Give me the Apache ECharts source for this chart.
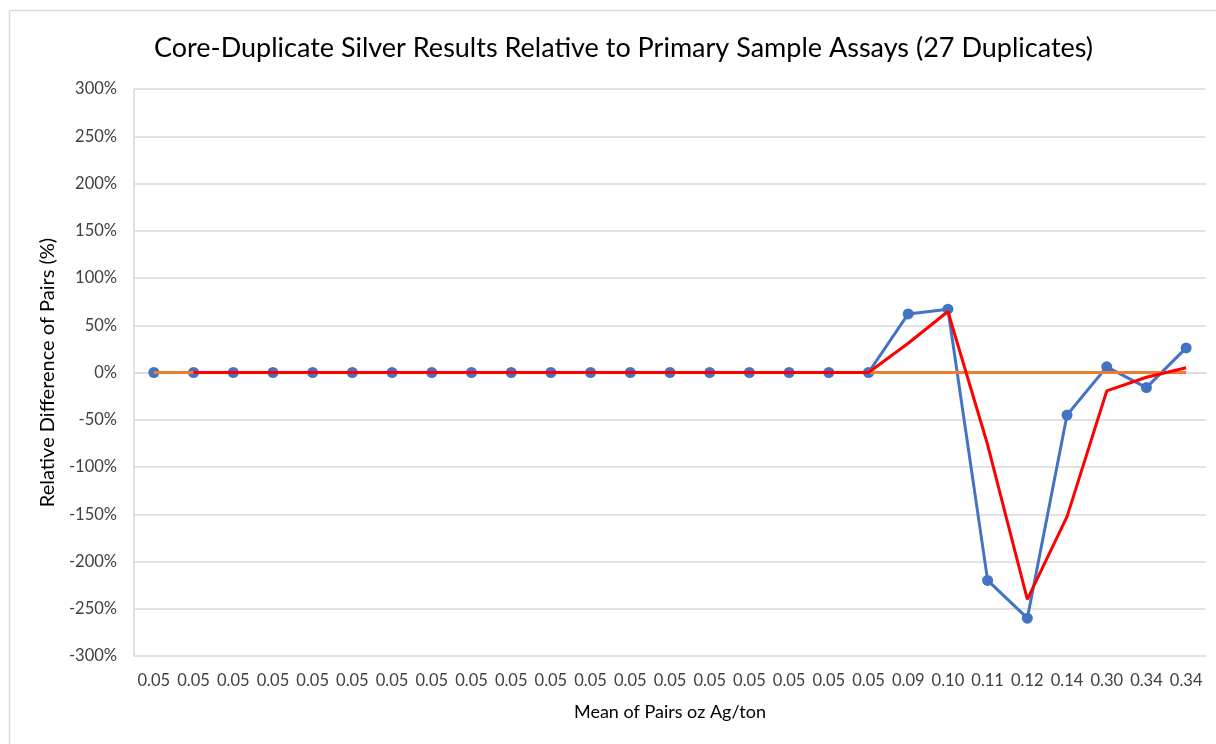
<!DOCTYPE html>
<html><head><meta charset="utf-8">
<script src="https://cdn.jsdelivr.net/npm/echarts@6/dist/echarts.min.js"></script>
<style>html,body{margin:0;padding:0;background:#fff}#c{width:1216px;height:744px}</style>
</head><body><div id="c"></div>
<script>
const categories = ['0.05','0.05','0.05','0.05','0.05','0.05','0.05','0.05','0.05','0.05','0.05','0.05','0.05','0.05','0.05','0.05','0.05','0.05','0.05','0.09','0.10','0.11','0.12','0.14','0.30','0.34','0.34'];
const relDiff = [0,0,0,0,0,0,0,0,0,0,0,0,0,0,0,0,0,0,0,62,67,-220,-260,-45,6,-16,26];
const movingAvg = [null,0,0,0,0,0,0,0,0,0,0,0,0,0,0,0,0,0,0,31,64.5,-76.5,-240,-152.5,-19.5,-5,5];
const zeroLine = [0,0,0,0,0,0,0,0,0,0,0,0,0,0,0,0,0,0,0,0,0,0,0,0,0,0,0];
const titleText = 'Core-Duplicate Silver Results Relative to Primary Sample Assays (27 Duplicates)';
const xTitle = 'Mean of Pairs oz Ag/ton';
const yTitle = 'Relative Difference of Pairs (%)';

const chart = echarts.init(document.getElementById('c'));
const font = 'Lato, sans-serif';
chart.setOption({
  animation: false,
  graphic: [{type:'rect', shape:{x:9.5,y:10.5,width:1220,height:760}, style:{fill:'none', stroke:'#d9d9d9', lineWidth:1.5}, silent:true}],
  title: {text: titleText, left: 149, top: 30, textStyle:{fontFamily:font, fontSize:27, fontWeight:'normal', color:'#000'}},
  grid: {left:134, right:10, top:89, bottom:88},
  xAxis: {
    type:'category', data:categories, boundaryGap:true,
    name:xTitle, nameLocation:'middle', nameGap:47,
    nameTextStyle:{fontFamily:font, fontSize:18, color:'#000'},
    axisLine:{lineStyle:{color:'#d9d9d9', width:1.5}},
    axisTick:{show:false},
    axisLabel:{interval:0, fontFamily:font, fontSize:16.5, color:'#404040', margin:16}
  },
  yAxis: {
    type:'value', min:-300, max:300, interval:50,
    name:yTitle, nameLocation:'middle', nameGap:74, nameRotate:90,
    nameTextStyle:{fontFamily:font, fontSize:20, color:'#000'},
    axisLine:{show:true, lineStyle:{color:'#d9d9d9', width:1.5}},
    axisTick:{show:false},
    splitLine:{lineStyle:{color:'#d9d9d9', width:1.5}},
    axisLabel:{formatter:'{value}%', fontFamily:font, fontSize:16.5, color:'#404040', margin:17}
  },
  series: [
    {name:'Relative Difference', type:'line', data:relDiff, symbol:'circle', symbolSize:11,
     lineStyle:{color:'#4472C4', width:3}, itemStyle:{color:'#4472C4'}, z:2},
    {name:'Zero', type:'line', data:zeroLine, symbol:'none', lineStyle:{color:'#ED7D31', width:3}, z:3},
    {name:'Moving Average', type:'line', data:movingAvg, symbol:'none', lineStyle:{color:'#FF0000', width:3}, z:4}
  ]
});
</script></body></html>
